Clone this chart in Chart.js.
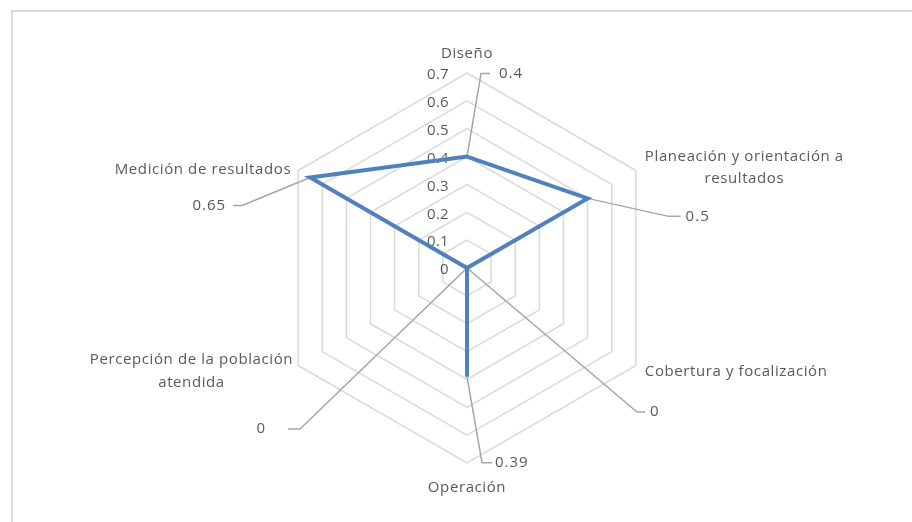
<!DOCTYPE html>
<html><head><meta charset="utf-8">
<script src="https://cdn.jsdelivr.net/npm/chart.js@4.4.0/dist/chart.umd.min.js"></script>
<style>
html,body{margin:0;padding:0;background:#fff;}
#wrap{position:relative;width:912px;height:522px;overflow:hidden;background:#fff;}
#frame{position:absolute;left:11px;top:10px;width:920px;height:530px;border-top:2px solid #d9d9d9;border-left:2px solid #d9d9d9;}
canvas{position:absolute;left:0;top:0;}
</style></head><body>
<div id="wrap"><div id="frame"></div><canvas id="c" width="912" height="522"></canvas></div>
<script>
// ---- data ----
const categories = [
  ['Diseño'],
  ['Planeación y orientación a', 'resultados'],
  ['Cobertura y focalización'],
  ['Operación'],
  ['Percepción de la población', 'atendida'],
  ['Medición de resultados']
];
const values = [0.4, 0.5, 0, 0.39, 0, 0.65];
const tickValues = [0, 0.1, 0.2, 0.3, 0.4, 0.5, 0.6, 0.7];
const tickLabels = ['0', '0.1', '0.2', '0.3', '0.4', '0.5', '0.6', '0.7'];

// ---- style / layout ----
const FONT = '"Open Sans", sans-serif';
const TEXT = '#595959';
const leaderStyle = [
  {kx: 14, ky: -83, h: 9, tx: 18, align: 'left'},
  {kx: 81, ky: 18, h: 12, tx: 17, align: 'left'},
  {kx: 170, ky: 144, h: 8, tx: 13, align: 'left'},
  {kx: 15, ky: 86, h: 10, tx: 13, align: 'left'},
  {kx: -167, ky: 161, h: -12, tx: -34, align: 'right'},
  {kx: -68, ky: 28, h: -9, tx: -16, align: 'right'}
];
const pointLabelStyle = [
  {align: 'center', dx: 0, dy: -19, lh: 22},
  {align: 'left', dx: 9, dy: -2.5, lh: 22},
  {align: 'left', dx: 9, dy: 6.5, lh: 22},
  {align: 'center', dx: 0, dy: 25, lh: 22},
  {align: 'right', dx: -5, dy: 6, lh: 23},
  {align: 'right', dx: -7, dy: -0.5, lh: 22}
];

function setSpacing(ctx, v) { if ('letterSpacing' in ctx) ctx.letterSpacing = v; }

const overlay = {
  id: 'overlay',
  beforeDatasetsDraw(chart) {
    const s = chart.scales.r, ctx = chart.ctx;
    ctx.save();
    ctx.font = '15px ' + FONT;
    setSpacing(ctx, '0.3px');
    ctx.fillStyle = TEXT;
    ctx.textAlign = 'right';
    ctx.textBaseline = 'middle';
    tickValues.forEach((v, i) => {
      const d = s.getDistanceFromCenterForValue(v);
      ctx.fillText(tickLabels[i], s.xCenter - 18, s.yCenter - d + 2);
    });
    ctx.strokeStyle = '#a6a6a6';
    ctx.lineWidth = 1.5;
    const meta = chart.getDatasetMeta(0);
    meta.data.forEach((pt, i) => {
      const L = leaderStyle[i];
      const kx = pt.x + L.kx, ky = pt.y + L.ky;
      ctx.beginPath();
      ctx.moveTo(pt.x, pt.y);
      ctx.lineTo(kx, ky);
      ctx.lineTo(kx + L.h, ky);
      ctx.stroke();
    });
    ctx.restore();
  },
  afterDatasetsDraw(chart) {
    const s = chart.scales.r, ctx = chart.ctx;
    ctx.save();
    ctx.font = '15px ' + FONT;
    setSpacing(ctx, '1px');
    ctx.fillStyle = TEXT;
    ctx.textBaseline = 'middle';
    const meta = chart.getDatasetMeta(0);
    meta.data.forEach((pt, i) => {
      const L = leaderStyle[i];
      ctx.textAlign = L.align;
      ctx.fillText(String(values[i]), pt.x + L.kx + L.tx, pt.y + L.ky);
    });
    // category labels
    setSpacing(ctx, '0.6px');
    categories.forEach((lines, i) => {
      const P = pointLabelStyle[i];
      const v = s.getPointPosition(i, s.drawingArea);
      const w = Math.max(...lines.map(t => ctx.measureText(t).width));
      let cx = v.x + P.dx;
      if (P.align === 'left') cx = v.x + P.dx + w / 2;
      if (P.align === 'right') cx = v.x + P.dx - w / 2;
      const cy = v.y + P.dy;
      const y0 = cy - (lines.length - 1) * P.lh / 2;
      ctx.textAlign = 'center';
      lines.forEach((t, j) => ctx.fillText(t, cx, y0 + j * P.lh));
    });
    ctx.restore();
  }
};

new Chart(document.getElementById('c'), {
  type: 'radar',
  data: {
    labels: categories,
    datasets: [{
      data: values,
      borderColor: '#4F81BD',
      borderWidth: 4,
      backgroundColor: 'rgba(0,0,0,0)',
      fill: false,
      pointRadius: 0,
      pointHoverRadius: 0,
      tension: 0
    }]
  },
  options: {
    responsive: false,
    animation: false,
    events: [],
    layout: {padding: {left: 272, right: 250, top: 73, bottom: 59}},
    plugins: {legend: {display: false}, tooltip: {enabled: false}},
    scales: {
      r: {
        min: 0, max: 0.7,
        ticks: {stepSize: 0.1, display: false},
        grid: {circular: false, color: '#d9d9d9', lineWidth: 1.5},
        angleLines: {display: false},
        pointLabels: {display: false}
      }
    }
  },
  plugins: [overlay]
});
</script>
</body></html>
